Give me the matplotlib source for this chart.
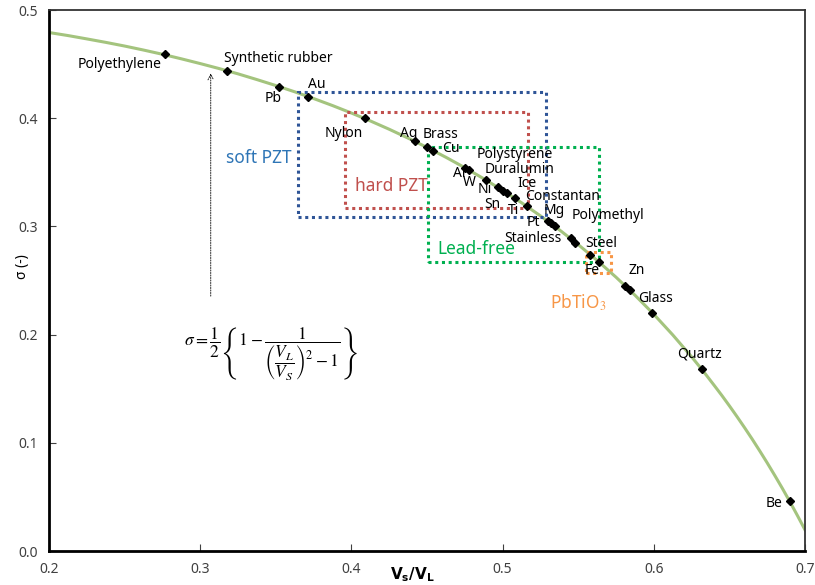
import matplotlib
matplotlib.use('Agg')
import matplotlib.pyplot as plt
from matplotlib.patches import Rectangle

plt.rcParams['font.family'] = ['Noto Sans', 'DejaVu Sans']
plt.rcParams['mathtext.fontset'] = 'stix'

# courbe theorique
curve_x = [0.2000, 0.2125, 0.2250, 0.2375, 0.2500, 0.2625, 0.2750, 0.2875, 0.3000, 0.3125,
           0.3250, 0.3375, 0.3500, 0.3625, 0.3750, 0.3875, 0.4000, 0.4125, 0.4250, 0.4375,
           0.4500, 0.4625, 0.4750, 0.4875, 0.5000, 0.5125, 0.5250, 0.5375, 0.5500, 0.5625,
           0.5750, 0.5875, 0.6000, 0.6125, 0.6250, 0.6325, 0.6400, 0.6450, 0.6500, 0.6550,
           0.6600, 0.6650, 0.6700, 0.6750, 0.6800, 0.6850, 0.6900, 0.6950, 0.7000]
curve_sigma = [0.4792, 0.4764, 0.4733, 0.4701, 0.4667, 0.4630, 0.4591, 0.4549, 0.4505, 0.4459,
               0.4410, 0.4357, 0.4302, 0.4244, 0.4182, 0.4117, 0.4048, 0.3975, 0.3898, 0.3816,
               0.3730, 0.3639, 0.3543, 0.3441, 0.3333, 0.3219, 0.3098, 0.2969, 0.2832, 0.2686,
               0.2531, 0.2365, 0.2188, 0.1998, 0.1795, 0.1666, 0.1530, 0.1438, 0.1342, 0.1243,
               0.1141, 0.1036, 0.0927, 0.0815, 0.0699, 0.0580, 0.0456, 0.0328, 0.0196]

# materiaux (points)
pt_x = [0.277, 0.318, 0.352, 0.371, 0.409, 0.442, 0.450, 0.454, 0.475, 0.478,
        0.489, 0.497, 0.500, 0.503, 0.508, 0.516, 0.530, 0.532, 0.535, 0.545,
        0.548, 0.558, 0.564, 0.581, 0.584, 0.599, 0.632, 0.690]
pt_sigma = [0.459, 0.444, 0.429, 0.420, 0.400, 0.379, 0.373, 0.370, 0.354, 0.352,
            0.343, 0.336, 0.333, 0.331, 0.326, 0.319, 0.305, 0.303, 0.300, 0.289,
            0.285, 0.274, 0.267, 0.245, 0.241, 0.220, 0.168, 0.046]

# etiquettes des materiaux
labels = ['Polyethylene', 'Synthetic rubber', 'Pb', 'Au', 'Nylon', 'Ag', 'Brass', 'Cu',
          'Polystyrene', 'Al', 'Duralumin', 'W', 'Ni', 'Ice', 'Sn', 'Ti', 'Constantan',
          'Mg', 'Pt', 'Polymethyl', 'Stainless', 'Steel', 'Fe', 'Zn', 'Glass', 'Quartz', 'Be']
label_x = [0.247, 0.352, 0.348, 0.377, 0.395, 0.438, 0.459, 0.466,
           0.508, 0.4715, 0.511, 0.478, 0.488, 0.516, 0.4935, 0.507, 0.540,
           0.534, 0.5205, 0.570, 0.520, 0.565, 0.5595, 0.589, 0.601, 0.630, 0.6795]
label_y = [0.450, 0.4555, 0.4185, 0.4315, 0.386, 0.386, 0.385, 0.372,
           0.366, 0.349, 0.3525, 0.3405, 0.334, 0.340, 0.320, 0.315, 0.328,
           0.315, 0.3035, 0.310, 0.2885, 0.284, 0.259, 0.259, 0.233, 0.182, 0.044]

# zones (x0, x1, y0, y1)
zones = ['soft PZT', 'hard PZT', 'Lead-free', 'PbTiO$_3$']
zone_x0 = [0.365, 0.396, 0.451, 0.5555]
zone_x1 = [0.529, 0.517, 0.5635, 0.5715]
zone_y0 = [0.309, 0.317, 0.2675, 0.257]
zone_y1 = [0.424, 0.406, 0.373, 0.276]
zone_colors = ['#2F5597', '#C0504D', '#00B050', '#F79646']
zone_text_colors = ['#2E75B6', '#C0504D', '#00B050', '#F79646']
zone_text_x = [0.3385, 0.4265, 0.483, 0.550]
zone_text_y = [0.363, 0.337, 0.2795, 0.2295]

fig = plt.figure(figsize=(8.15, 5.85), dpi=100)
ax = fig.add_axes([0.0601, 0.0581, 0.9276, 0.9248])

ax.plot(curve_x, curve_sigma, color='#A4C47E', lw=2.2, zorder=2)
ax.plot(pt_x, pt_sigma, 'D', color='black', markersize=4.2, zorder=4)

for i in range(len(zones)):
    r = Rectangle((zone_x0[i], zone_y0[i]), zone_x1[i] - zone_x0[i], zone_y1[i] - zone_y0[i],
                  fill=False, edgecolor=zone_colors[i], lw=2.2, linestyle=(0, (1, 1.2)), zorder=3)
    ax.add_patch(r)
    ax.text(zone_text_x[i], zone_text_y[i], zones[i], color=zone_text_colors[i],
            fontsize=12.5, ha='center', va='center', zorder=5)

for i in range(len(labels)):
    ax.text(label_x[i], label_y[i], labels[i], fontsize=10, ha='center', va='center',
            color='black', zorder=5)

# fleche + formule
ax.annotate('', xy=(0.307, 0.444), xytext=(0.307, 0.233),
            arrowprops=dict(arrowstyle='->', lw=0.6, linestyle=(0, (1.5, 1.5)), color='black'))
ax.text(0.3465, 0.183,
        r'$\sigma=\dfrac{1}{2}\left\{1-\dfrac{1}{\left(\dfrac{V_L}{V_S}\right)^2-1}\right\}$',
        fontsize=12.5, ha='center', va='center')

ax.set_xlim(0.2, 0.7)
ax.set_ylim(0.0, 0.5)
ax.set_xticks([0.2, 0.3, 0.4, 0.5, 0.6, 0.7])
ax.set_yticks([0.0, 0.1, 0.2, 0.3, 0.4, 0.5])
ax.set_xticklabels(['0.2', '0.3', '0.4', '0.5', '0.6', '0.7'])
ax.set_yticklabels(['0.0', '0.1', '0.2', '0.3', '0.4', '0.5'])
ax.tick_params(direction='in', length=5, width=0.8, labelsize=10, colors='#404040', pad=8)

for s in ['left', 'bottom']:
    ax.spines[s].set_linewidth(2)
    ax.spines[s].set_color('black')
for s in ['top', 'right']:
    ax.spines[s].set_linewidth(1.3)
    ax.spines[s].set_color('#333333')

fig.text(0.506, 0.018, r'$\mathbf{V_s/V_L}$', fontsize=11, ha='center', va='center',
         math_fontfamily='dejavusans')
fig.text(0.027, 0.545, 'σ (-)', fontsize=10, fontweight='bold', rotation=90,
         ha='center', va='center')

fig.savefig('out.png', dpi=100)
